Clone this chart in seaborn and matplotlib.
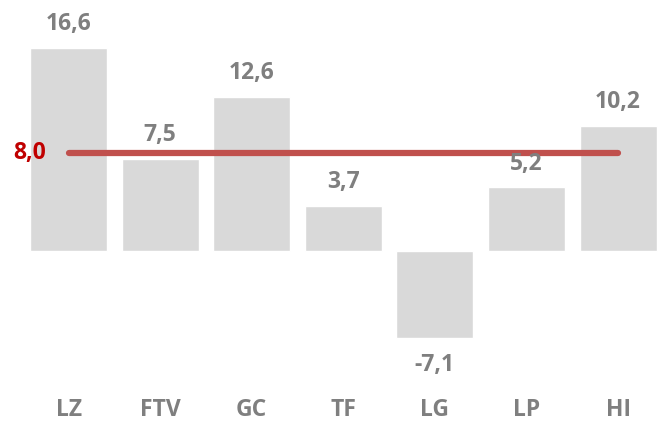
import pandas as pd
import seaborn as sns
import matplotlib.pyplot as plt

# Data
categories = ["LZ", "FTV", "GC", "TF", "LG", "LP", "HI"]
values = [16.6, 7.5, 12.6, 3.7, -7.1, 5.2, 10.2]
average = 8.0

df = pd.DataFrame({"cat": categories, "val": values})

sns.set_style("white")
plt.rcParams["font.family"] = ["Open Sans", "DejaVu Sans"]

grey_text = "#7F7F7F"
fs = 16.5

fig = plt.figure(figsize=(6.61, 4.22), dpi=100)
ax = fig.add_axes([27.3 / 661, 0, 632 / 661, 1])

sns.barplot(data=df, x="cat", y="val", color="#D9D9D9", saturation=1,
            width=0.84, ax=ax)

# average line
ax.plot([0, len(categories) - 1], [average, average], color="#C0504D",
        lw=4.5, solid_capstyle="round", zorder=3)
ax.text(-0.42, average, f"{average:.1f}".replace(".", ","), color="#C00000",
        fontsize=fs, fontweight="bold", ha="center", va="center")

# value labels
for i, v in enumerate(values):
    label = f"{v:.1f}".replace(".", ",")
    if v >= 0:
        ax.text(i, v + 1.95, label, ha="center", va="center",
                fontsize=fs, fontweight="bold", color=grey_text)
    else:
        ax.text(i, v - 2.2, label, ha="center", va="center",
                fontsize=fs, fontweight="bold", color=grey_text)
    ax.text(i, -13.0, categories[i], ha="center", va="center",
            fontsize=fs, fontweight="bold", color=grey_text)

ax.set_xlim(-0.45, 6.45)
ax.set_ylim(-13.98, 20.52)
ax.axis("off")

plt.savefig("out.png", dpi=100)
